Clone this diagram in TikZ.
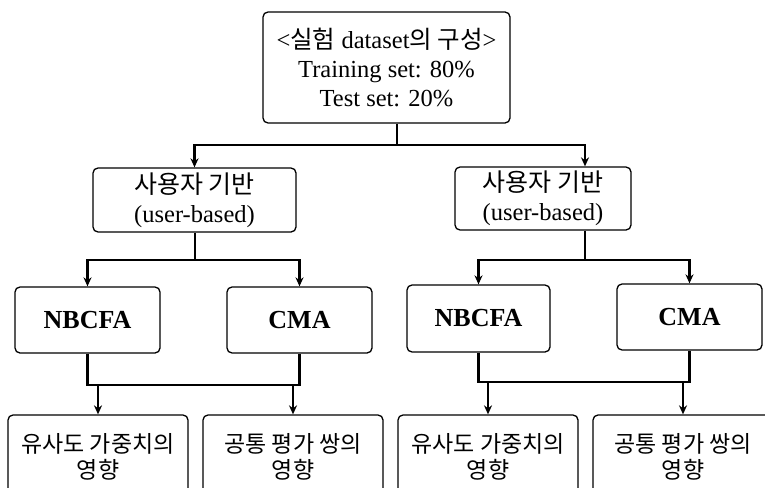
\documentclass[tikz,border=0pt]{standalone}
\usepackage{fontspec}
\setmainfont{Liberation Serif}
\newfontfamily\kr{Noto Sans CJK KR}
\usetikzlibrary{arrows,arrows.meta}

\begin{document}
\begin{tikzpicture}[
        x=1pt, y=-1pt, % pixel grid of the page
        >={Stealth[length=9pt,width=8pt]}, % arrow head style
        line width=2.3pt]

        \tikzset{box/.style={
            draw = black,
            line width=1.3pt,
            rounded corners=5pt,
            inner sep=0pt,
            align=center
        }}
        \tikzset{txt/.style={font=\fontsize{24.5}{29}\selectfont}}
        \tikzset{alg/.style={font=\fontsize{26}{30}\selectfont\bfseries}}
        \tikzset{eff/.style={box, minimum width=180pt, minimum height=84pt,
            font=\fontsize{23}{25.5}\selectfont\kr}}

        \useasboundingbox (0,0) rectangle (765,487);
        \clip (0,0) rectangle (765,487);

        % dataset
        \node[box, txt, minimum width=247pt, minimum height=111pt] (data) at (386.5,67.5)
            {<{\kr 실험} dataset{\kr 의 구성}>\\Training set: 80\%\\Test set: 20\%};

        % user-based
        \node[box, txt, minimum width=203pt, minimum height=64pt] (ubL) at (194.5,200)
            {{\kr\fontsize{25}{30}\selectfont 사용자 기반}\\(user-based)};
        \node[box, txt, minimum width=176pt, minimum height=63pt] (ubR) at (543,198.5)
            {{\kr\fontsize{25}{30}\selectfont 사용자 기반}\\(user-based)};

        % algorithms
        \node[box, alg, minimum width=145pt, minimum height=66pt] (nbL) at (87.5,320) {NBCFA};
        \node[box, alg, minimum width=145pt, minimum height=66pt] (cmL) at (299.5,320) {CMA};
        \node[box, alg, minimum width=143pt, minimum height=67pt] (nbR) at (478.5,318.5) {NBCFA};
        \node[box, alg, minimum width=145pt, minimum height=66pt] (cmR) at (689.5,317) {CMA};

        % effects
        \node[eff] (efL1) at (98,457) {유사도 가중치의\\영향};
        \node[eff] (efL2) at (293,457) {공통 평가 쌍의\\영향};
        \node[eff] (efR1) at (488,457) {유사도 가중치의\\영향};
        \node[eff] (efR2) at (683,457) {공통 평가 쌍의\\영향};

        \coordinate (s0) at (397,145);
        \coordinate (sL) at (195,260);
        \coordinate (sR) at (585,260);
        \coordinate (jL) at (0,385);
        \coordinate (jR) at (0,382);

        \draw (data.south -| s0) -- (s0);
        \draw[->] (s0) -| (ubL.north);
        \draw[->] (s0) -| (ubR.north -| sR);

        \draw (ubL.south -| sL) -- (sL);
        \draw[->] (sL) -| (nbL.north);
        \draw[->] (sL) -| (cmL.north);
        \draw (ubR.south -| sR) -- (sR);
        \draw[->] (sR) -| (nbR.north);
        \draw[->] (sR) -| (cmR.north);

        \draw (nbL.south) -- (nbL.south |- jL) -- (cmL.south |- jL) -- (cmL.south);
        \draw[->] (efL1.north |- jL) -- (efL1.north);
        \draw[->] (efL2.north |- jL) -- (efL2.north);
        \draw (nbR.south) -- (nbR.south |- jR) -- (cmR.south |- jR) -- (cmR.south);
        \draw[->] (efR1.north |- jR) -- (efR1.north);
        \draw[->] (efR2.north |- jR) -- (efR2.north);
    \end{tikzpicture}
\end{document}
